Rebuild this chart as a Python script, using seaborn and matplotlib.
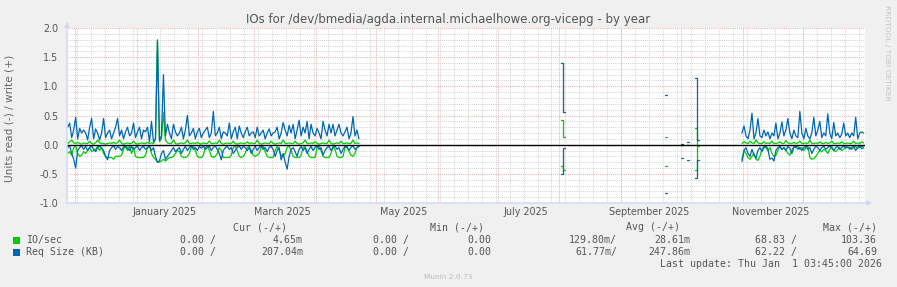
import numpy as np
import pandas as pd
import matplotlib
matplotlib.use("Agg")
import matplotlib.pyplot as plt
import matplotlib.dates as mdates
import seaborn as sns
from matplotlib.patches import Rectangle
from matplotlib.ticker import MultipleLocator, FormatStrFormatter

# ---------------- data (daily averages, day index from 2024-11-27) ----------------
SEG1_START = 0
io_write_1 = [0.02, 0.05, 0.08, 0.03, 0.02, 0.04, 0.02, 0.01, 0.03, 0.02,
              0.02, 0.06, 0.02, 0.01, 0.03, 0.08, 0.03, 0.02, 0.02, 0.01,
              0.02, 0.03, 0.02, 0.04, 0.02, 0.03, 0.08, 0.02, 0.01, 0.02,
              0.03, 0.02, 0.02, 0.06, 0.02, 0.01, 0.02, 0.03, 0.02, 0.02,
              0.04, 0.02, 0.03, 0.02, 0.10, 1.80, 0.05, 0.10, 0.55, 0.08,
              0.03, 0.02, 0.02, 0.08, 0.02, 0.01, 0.02, 0.03, 0.02, 0.03,
              0.08, 0.02, 0.02, 0.03, 0.02, 0.04, 0.02, 0.01, 0.03, 0.02,
              0.02, 0.06, 0.02, 0.02, 0.03, 0.02, 0.08, 0.02, 0.01, 0.02,
              0.03, 0.02, 0.02, 0.06, 0.02, 0.01, 0.02, 0.03, 0.02, 0.02,
              0.05, 0.02, 0.03, 0.02, 0.02, 0.08, 0.02, 0.01, 0.02, 0.03,
              0.02, 0.02, 0.06, 0.02, 0.01, 0.02, 0.03, 0.02, 0.08, 0.02,
              0.02, 0.03, 0.02, 0.02, 0.06, 0.02, 0.01, 0.02, 0.03, 0.08,
              0.02, 0.02, 0.03, 0.02, 0.05, 0.02, 0.01, 0.02, 0.03, 0.02,
              0.02, 0.08, 0.02, 0.01, 0.02, 0.03, 0.02, 0.06, 0.02, 0.02,
              0.03, 0.02, 0.02, 0.08, 0.02, 0.03, 0.02]
io_read_1 = [-0.15, -0.12, -0.18, -0.05, -0.02, -0.15, -0.20, -0.18, -0.12, -0.15,
             -0.10, -0.05, -0.12, -0.10, -0.08, -0.03, -0.10, -0.05, -0.15, -0.20,
             -0.22, -0.22, -0.22, -0.25, -0.20, -0.20, -0.20, -0.18, -0.08, -0.03,
             -0.10, -0.02, -0.15, -0.05, -0.20, -0.22, -0.22, -0.22, -0.22, -0.18,
             -0.05, -0.02, -0.15, -0.22, -0.25, -0.30, -0.30, -0.28, -0.25, -0.28,
             -0.25, -0.22, -0.22, -0.20, -0.15, -0.10, -0.12, -0.20, -0.22, -0.22,
             -0.20, -0.15, -0.05, -0.03, -0.10, -0.20, -0.22, -0.22, -0.18, -0.05,
             -0.02, -0.10, -0.20, -0.22, -0.20, -0.15, -0.05, -0.10, -0.22, -0.22,
             -0.22, -0.22, -0.18, -0.05, -0.02, -0.10, -0.20, -0.22, -0.20, -0.15,
             -0.05, -0.03, -0.10, -0.18, -0.20, -0.18, -0.15, -0.05, -0.03, -0.12,
             -0.20, -0.22, -0.22, -0.22, -0.10, -0.03, -0.10, -0.18, -0.20, -0.15,
             -0.05, -0.02, -0.10, -0.20, -0.22, -0.22, -0.22, -0.18, -0.05, -0.03,
             -0.12, -0.20, -0.22, -0.22, -0.22, -0.05, -0.02, -0.10, -0.20, -0.22,
             -0.22, -0.22, -0.15, -0.03, -0.08, -0.20, -0.22, -0.22, -0.20, -0.05,
             -0.02, -0.12, -0.18, -0.20, -0.15, -0.05, -0.03]
rq_write_1 = [0.30, 0.37, 0.12, 0.25, 0.47, 0.10, 0.28, 0.20, 0.25, 0.20,
              0.08, 0.30, 0.45, 0.10, 0.27, 0.20, 0.08, 0.20, 0.45, 0.12,
              0.20, 0.25, 0.10, 0.20, 0.30, 0.45, 0.15, 0.25, 0.10, 0.22,
              0.30, 0.15, 0.20, 0.37, 0.12, 0.22, 0.30, 0.10, 0.25, 0.22,
              0.30, 0.05, 0.40, 0.05, 0.10, 1.78, 0.08, 0.15, 1.20, 0.15,
              0.35, 0.20, 0.10, 0.35, 0.22, 0.15, 0.20, 0.30, 0.10, 0.25,
              0.50, 0.15, 0.20, 0.28, 0.10, 0.22, 0.28, 0.12, 0.20, 0.25,
              0.30, 0.12, 0.20, 0.57, 0.15, 0.20, 0.30, 0.10, 0.22, 0.20,
              0.15, 0.37, 0.10, 0.22, 0.30, 0.10, 0.32, 0.20, 0.12, 0.22,
              0.30, 0.15, 0.20, 0.22, 0.12, 0.30, 0.15, 0.20, 0.25, 0.10,
              0.20, 0.27, 0.15, 0.20, 0.22, 0.30, 0.10, 0.20, 0.38, 0.25,
              0.15, 0.33, 0.20, 0.35, 0.10, 0.25, 0.42, 0.15, 0.30, 0.20,
              0.40, 0.10, 0.35, 0.20, 0.15, 0.28, 0.20, 0.10, 0.40, 0.25,
              0.15, 0.35, 0.20, 0.35, 0.15, 0.25, 0.35, 0.20, 0.15, 0.22,
              0.30, 0.10, 0.20, 0.48, 0.15, 0.25, 0.10]
rq_read_1 = [-0.05, -0.02, -0.15, -0.25, -0.40, -0.10, -0.05, -0.02, -0.08, -0.03,
             -0.10, -0.05, -0.02, -0.08, -0.12, -0.05, -0.02, -0.06, -0.10, -0.20,
             -0.26, -0.10, -0.05, -0.02, -0.08, -0.03, -0.05, -0.10, -0.04, -0.02,
             -0.06, -0.10, -0.03, -0.08, -0.05, -0.02, -0.10, -0.05, -0.03, -0.08,
             -0.05, -0.02, -0.10, -0.05, -0.20, -0.30, -0.28, -0.15, -0.10, -0.25,
             -0.20, -0.15, -0.10, -0.05, -0.12, -0.08, -0.05, -0.15, -0.08, -0.03,
             -0.10, -0.05, -0.02, -0.08, -0.05, -0.10, -0.03, -0.06, -0.02, -0.08,
             -0.05, -0.03, -0.10, -0.05, -0.02, -0.08, -0.15, -0.26, -0.10, -0.05,
             -0.03, -0.08, -0.05, -0.15, -0.10, -0.05, -0.02, -0.08, -0.03, -0.05,
             -0.10, -0.05, -0.15, -0.08, -0.03, -0.10, -0.05, -0.02, -0.08, -0.05,
             -0.12, -0.05, -0.03, -0.08, -0.20, -0.10, -0.05, -0.26, -0.15, -0.30,
             -0.42, -0.20, -0.08, -0.05, -0.12, -0.20, -0.08, -0.03, -0.10, -0.05,
             -0.15, -0.08, -0.03, -0.10, -0.05, -0.02, -0.08, -0.05, -0.18, -0.10,
             -0.05, -0.03, -0.10, -0.05, -0.02, -0.08, -0.05, -0.15, -0.08, -0.03,
             -0.05, -0.10, -0.05, -0.02, -0.08, -0.05, -0.03]

sparse_days = [248, 249, 300, 308, 311, 315, 316]
io_write_sp = [0.42, 0.14, 0.13, 0.00, 0.00, 0.29, 0.00]
io_read_sp = [-0.37, -0.43, -0.37, 0.00, 0.00, -0.43, -0.02]
rq_write_sp = [1.40, 0.56, 0.86, 0.02, 0.04, 1.14, 0.08]
rq_read_sp = [-0.50, -0.06, -0.82, -0.22, -0.26, -0.57, -0.26]

SEG3_START = 338
io_write_3 = [0.02, 0.05, 0.03, 0.02, 0.06, 0.03, 0.02, 0.08, 0.03, 0.02,
              0.02, 0.05, 0.02, 0.03, 0.02, 0.06, 0.02, 0.02, 0.03, 0.05,
              0.02, 0.02, 0.07, 0.03, 0.02, 0.02, 0.04, 0.02, 0.03, 0.06,
              0.02, 0.02, 0.03, 0.02, 0.08, 0.02, 0.02, 0.03, 0.02, 0.05,
              0.02, 0.02, 0.04, 0.02, 0.03, 0.06, 0.02, 0.02, 0.03, 0.02,
              0.05, 0.02, 0.02, 0.03, 0.02, 0.02, 0.06, 0.02, 0.03, 0.02,
              0.05, 0.03]
io_read_3 = [-0.25, -0.10, -0.15, -0.22, -0.25, -0.20, -0.15, -0.25, -0.27, -0.20,
             -0.08, -0.03, -0.05, -0.10, -0.05, -0.15, -0.20, -0.18, -0.10, -0.03,
             -0.08, -0.05, -0.10, -0.15, -0.18, -0.10, -0.03, -0.05, -0.02, -0.08,
             -0.05, -0.10, -0.05, -0.02, -0.22, -0.25, -0.24, -0.20, -0.15, -0.10,
             -0.12, -0.08, -0.10, -0.15, -0.08, -0.03, -0.10, -0.12, -0.08, -0.05,
             -0.10, -0.08, -0.03, -0.05, -0.04, -0.08, -0.05, -0.03, -0.06, -0.05,
             -0.03, -0.04]
rq_write_3 = [0.20, 0.32, 0.15, 0.10, 0.25, 0.54, 0.10, 0.20, 0.45, 0.15,
              0.12, 0.25, 0.15, 0.22, 0.10, 0.20, 0.15, 0.37, 0.10, 0.20,
              0.39, 0.15, 0.25, 0.45, 0.20, 0.10, 0.25, 0.15, 0.12, 0.57,
              0.20, 0.10, 0.28, 0.15, 0.10, 0.20, 0.47, 0.15, 0.25, 0.40,
              0.12, 0.20, 0.15, 0.53, 0.20, 0.10, 0.38, 0.15, 0.20, 0.12,
              0.18, 0.37, 0.15, 0.20, 0.12, 0.20, 0.15, 0.47, 0.10, 0.20,
              0.22, 0.20]
rq_read_3 = [-0.29, -0.10, -0.05, -0.15, -0.20, -0.08, -0.18, -0.23, -0.10, -0.05,
             -0.12, -0.05, -0.02, -0.08, -0.25, -0.23, -0.28, -0.10, -0.05, -0.03,
             -0.08, -0.05, -0.10, -0.03, -0.06, -0.15, -0.05, -0.03, -0.08, -0.05,
             -0.10, -0.05, -0.03, -0.08, -0.05, -0.15, -0.08, -0.03, -0.05, -0.10,
             -0.05, -0.03, -0.08, -0.05, -0.02, -0.06, -0.10, -0.05, -0.03, -0.08,
             -0.05, -0.02, -0.06, -0.04, -0.08, -0.05, -0.03, -0.10, -0.05, -0.02,
             -0.07, -0.05]

series_names = ["IO/sec", "Req Size (KB)"]
series_colors = ["#00CC00", "#0066B3"]

legend_header = ["Cur (-/+)", "Min (-/+)", "Avg (-/+)", "Max (-/+)"]
legend_io = ["0.00 /", "4.65m", "0.00 /", "0.00", "129.80m/", "28.61m", "68.83 /", "103.36"]
legend_rq = ["0.00 /", "207.04m", "0.00 /", "0.00", "61.77m/", "247.86m", "62.22 /", "64.69"]

title = "IOs for /dev/bmedia/agda.internal.michaelhowe.org-vicepg - by year"
ylabel = "Units read (-) / write (+)"
last_update = "Last update: Thu Jan  1 03:45:00 2026"

# ---------------- build long table ----------------
BASE = pd.Timestamp("2024-11-27 00:00")
END = pd.Timestamp("2026-01-01 03:45")
START = END - pd.Timedelta(days=400)

rows = []


def add(metric, tag, days, vals):
    # split into contiguous runs
    runs = []
    for d, v in zip(days, vals):
        if runs and d == runs[-1][-1][0] + 1:
            runs[-1].append((d, v))
        else:
            runs.append([(d, v)])
    for k, run in enumerate(runs):
        uid = f"{metric}|{tag}|{k}"
        if len(run) >= 3:
            # long runs: points at mid-day, joined directly
            for d, v in run:
                rows.append((BASE + pd.Timedelta(hours=24 * d + 12), v, metric, uid))
        else:
            # short runs: rrdtool-like step per day
            for d, v in run:
                rows.append((BASE + pd.Timedelta(days=d), v, metric, uid))
                rows.append((BASE + pd.Timedelta(days=d + 1), v, metric, uid))


def seg_days(start, vals):
    return list(range(start, start + len(vals)))


for metric, tag, parts in [
    ("IO/sec", "w", [(seg_days(SEG1_START, io_write_1), io_write_1),
                     (sparse_days, io_write_sp),
                     (seg_days(SEG3_START, io_write_3), io_write_3)]),
    ("IO/sec", "r", [(seg_days(SEG1_START, io_read_1), io_read_1),
                     (sparse_days, io_read_sp),
                     (seg_days(SEG3_START, io_read_3), io_read_3)]),
    ("Req Size (KB)", "w", [(seg_days(SEG1_START, rq_write_1), rq_write_1),
                            (sparse_days, rq_write_sp),
                            (seg_days(SEG3_START, rq_write_3), rq_write_3)]),
    ("Req Size (KB)", "r", [(seg_days(SEG1_START, rq_read_1), rq_read_1),
                            (sparse_days, rq_read_sp),
                            (seg_days(SEG3_START, rq_read_3), rq_read_3)]),
]:
    for i, (dd, vv) in enumerate(parts):
        add(metric, f"{tag}{i}", dd, vv)

df = pd.DataFrame(rows, columns=["time", "value", "metric", "uid"])

# ---------------- figure ----------------
sns.set_style("white")
plt.rcParams["font.family"] = ["DejaVu Sans"]
plt.rcParams["axes.unicode_minus"] = False

W, H = 897, 287
fig = plt.figure(figsize=(W / 100, H / 100), dpi=100, facecolor="#F0F0F0")
L, R, T, B = 67, 865, 28, 203
ax = fig.add_axes([L / W, 1 - B / H, (R - L) / W, (B - T) / H])
ax.set_facecolor("white")

# grid
minor_c = "#D0D0D0"
major_c = "#E8A8A8"
dot = (0, (1, 1.2))
xmin_n, xmax_n = mdates.date2num(START), mdates.date2num(END)
for x in mdates.WeekdayLocator(byweekday=mdates.MO).tick_values(START, END):
    if xmin_n < x < xmax_n:
        ax.axvline(x, color=minor_c, lw=0.7, ls=dot, zorder=0)
for x in mdates.MonthLocator(bymonthday=1).tick_values(START, END):
    if xmin_n < x < xmax_n:
        ax.axvline(x, color=major_c, lw=0.7, ls=dot, zorder=0.5)
for k in range(-10, 21):
    yv = k / 10
    if k % 5 == 0:
        ax.axhline(yv, color=major_c, lw=0.7, ls=dot, zorder=0.5)
    else:
        ax.axhline(yv, color=minor_c, lw=0.7, ls=dot, zorder=0)

sns.lineplot(data=df, x="time", y="value", hue="metric", units="uid",
             estimator=None, sort=False, hue_order=series_names,
             palette=dict(zip(series_names, series_colors)),
             legend=False, lw=0.9, ax=ax, zorder=3)

ax.axhline(0, color="black", lw=1.0, zorder=4)
ax.set_xlim(START, END)
ax.set_ylim(-1.0, 2.0)

for s in ax.spines.values():
    s.set_visible(False)
axis_c = "#CFD6F8"
ax.annotate("", xy=(1.009, 0), xytext=(0, 0), xycoords="axes fraction",
            arrowprops=dict(arrowstyle="-|>", color=axis_c, lw=1.0,
                            mutation_scale=7, shrinkA=0, shrinkB=0),
            annotation_clip=False, zorder=5)
ax.annotate("", xy=(0, 1.035), xytext=(0, 0), xycoords="axes fraction",
            arrowprops=dict(arrowstyle="-|>", color=axis_c, lw=1.0,
                            mutation_scale=7, shrinkA=0, shrinkB=0),
            annotation_clip=False, zorder=5)

ax.yaxis.set_major_locator(MultipleLocator(0.5))
ax.yaxis.set_major_formatter(FormatStrFormatter("%.1f"))
ax.xaxis.set_major_locator(mdates.MonthLocator(bymonth=[1, 3, 5, 7, 9, 11], bymonthday=15))
ax.xaxis.set_major_formatter(mdates.DateFormatter("%B %Y"))
ax.tick_params(axis="both", length=0, labelsize=6.9, colors="#555555")
ax.tick_params(axis="y", pad=6)
ax.tick_params(axis="x", pad=3)
ax.set_xlabel("")
ax.set_ylabel("")

fig.text(10 / W, 1 - 118 / H, ylabel, rotation=90, ha="center", va="center",
         fontsize=7.6, color="#666666")
fig.text(0.5, 1 - 19 / H, title, ha="center", va="center", fontsize=8.5, color="#555555")
fig.text(887 / W, 1 - 5 / H, "RRDTOOL / TOBI OETIKER", rotation=270, ha="center", va="top",
         fontsize=5.4, color="#C4C4C4")
fig.text(0.5, 1 - 277 / H, "Munin 2.0.73", ha="center", va="center", fontsize=5.3, color="#BBBBBB")

# legend block
mono = dict(family="DejaVu Sans Mono", fontsize=7.1, color="#555555", va="center")
hdr_right = [287, 484, 680, 877]
for txt, xr in zip(legend_header, hdr_right):
    fig.text(xr / W, 1 - 227 / H, txt, ha="right", **mono)
val_right = [216, 303, 409, 491, 617, 690, 797, 877]
for row_y, name, color, vals in [(240, series_names[0], series_colors[0], legend_io),
                                 (252, series_names[1], series_colors[1], legend_rq)]:
    fig.patches.append(Rectangle((12.5 / W, 1 - (row_y + 3.5) / H), 7 / W, 7 / H,
                                 transform=fig.transFigure, facecolor=color,
                                 edgecolor="none"))
    fig.text(26 / W, 1 - row_y / H, name, ha="left", **mono)
    for txt, xr in zip(vals, val_right):
        fig.text(xr / W, 1 - row_y / H, txt, ha="right", **mono)
fig.text(882 / W, 1 - 264 / H, last_update, ha="right", **mono)

fig.savefig("out.png", dpi=100, facecolor=fig.get_facecolor())
